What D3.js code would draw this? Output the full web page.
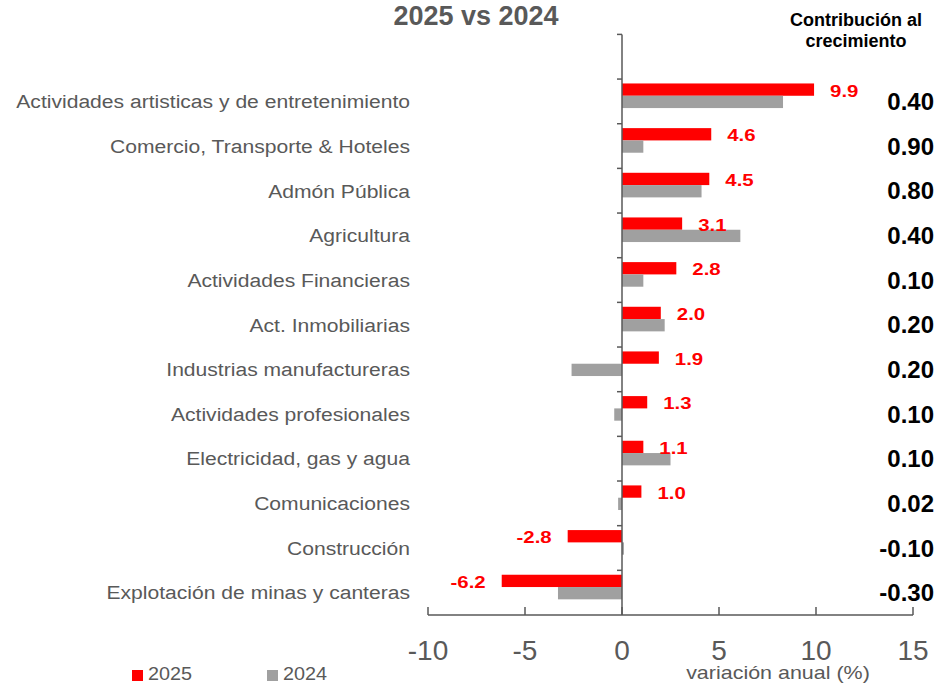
<!DOCTYPE html>
<html>
<head>
<meta charset="utf-8">
<script src="https://cdn.jsdelivr.net/npm/d3@7"></script>
<style>
  body { margin: 0; background: #fff; }
  svg { font-family: "Liberation Sans", Arial, sans-serif; }
</style>
</head>
<body>
<div id="chart"></div>
<script>
const categories = [
    "Actividades artisticas y de entretenimiento",
    "Comercio, Transporte & Hoteles",
    "Admón Pública",
    "Agricultura",
    "Actividades Financieras",
    "Act. Inmobiliarias",
    "Industrias manufactureras",
    "Actividades profesionales",
    "Electricidad, gas y agua",
    "Comunicaciones",
    "Construcción",
    "Explotación de minas y canteras"
];
const values2025 = [9.9, 4.6, 4.5, 3.1, 2.8, 2.0, 1.9, 1.3, 1.1, 1.0, -2.8, -6.2];
const values2024 = [8.3, 1.1, 4.1, 6.1, 1.1, 2.2, -2.6, -0.4, 2.5, -0.2, 0.1, -3.3];
const contribution = ["0.40", "0.90", "0.80", "0.40", "0.10", "0.20", "0.20", "0.10", "0.10", "0.02", "-0.10", "-0.30"];
const xTicks = [-10, -5, 0, 5, 10, 15];
const seriesNames = ["2025", "2024"];

const width = 942, height = 684;
const textGray = "#595959";
const colors = { "2025": "#ff0000", "2024": "#a0a0a0" };

const svg = d3.select("#chart")
    .append("svg")
    .attr("width", width)
    .attr("height", height);

// x scale: -10 .. 15
const x = d3.scaleLinear().domain([-10, 15]).range([428, 913]);

// first band is empty (room under the title)
const y = d3.scaleBand()
    .domain([""].concat(categories))
    .range([34.4, 615])
    .padding(0);

const sub = d3.scaleBand().domain(seriesNames).range([4.4, 29]);

// helper for the slightly stretched text of the original
function stretchedText(g, tx, ty, str, size, sx, anchor) {
    return g.append("text")
        .attr("transform", `translate(${tx},${ty}) scale(${sx},1)`)
        .attr("text-anchor", anchor)
        .style("font-size", size + "px")
        .text(str);
}

// title
svg.append("text")
    .attr("x", 476)
    .attr("y", 25)
    .attr("text-anchor", "middle")
    .style("font-size", "27px")
    .style("font-weight", "bold")
    .style("fill", textGray)
    .text("2025 vs 2024");

// contribution header
const head = svg.append("text")
    .attr("text-anchor", "middle")
    .style("font-size", "18px")
    .style("font-weight", "bold")
    .style("fill", "#000");
head.append("tspan").attr("x", 856).attr("y", 26).text("Contribución al");
head.append("tspan").attr("x", 856).attr("y", 47).text("crecimiento");

const rows = categories.map((c, i) => ({
    name: c, v2025: values2025[i], v2024: values2024[i], contrib: contribution[i]
}));

// bars
const barData = [];
rows.forEach(r => {
    barData.push({ name: r.name, series: "2025", value: r.v2025 });
    barData.push({ name: r.name, series: "2024", value: r.v2024 });
});

svg.selectAll(".bar")
    .data(barData)
    .enter()
    .append("rect")
    .attr("class", "bar")
    .attr("x", d => x(Math.min(0, d.value)))
    .attr("y", d => y(d.name) + sub(d.series))
    .attr("width", d => Math.abs(x(d.value) - x(0)))
    .attr("height", sub.bandwidth())
    .style("fill", d => colors[d.series]);

// axes
const axisG = svg.append("g").style("stroke", textGray).style("stroke-width", 1.5);

axisG.append("line")
    .attr("x1", x(0)).attr("x2", x(0))
    .attr("y1", y.range()[0]).attr("y2", y.range()[1]);

axisG.selectAll(".ytick")
    .data(y.domain())
    .enter()
    .append("line")
    .attr("x1", x(0) - 5).attr("x2", x(0))
    .attr("y1", d => y(d)).attr("y2", d => y(d));

axisG.append("line")
    .attr("x1", x(-10)).attr("x2", x(15))
    .attr("y1", 615).attr("y2", 615);

axisG.selectAll(".xtick")
    .data(xTicks)
    .enter()
    .append("line")
    .attr("x1", d => x(d)).attr("x2", d => x(d))
    .attr("y1", 607).attr("y2", 615);

svg.selectAll(".xlabel")
    .data(xTicks)
    .enter()
    .append("text")
    .attr("x", d => x(d))
    .attr("y", 660)
    .attr("text-anchor", "middle")
    .style("font-size", "28px")
    .style("fill", textGray)
    .text(d => d);

// category labels
const catG = svg.append("g").style("fill", textGray);
rows.forEach(r => {
    stretchedText(catG, 410, y(r.name) + y.bandwidth() / 2 + 6.8, r.name, 19, 1.11, "end");
});

// red value labels
const valG = svg.append("g").style("fill", "#ff0000").style("font-weight", "bold");
rows.forEach(r => {
    const ty = y(r.name) + sub("2025") + sub.bandwidth() / 2 + 7;
    if (r.v2025 >= 0) {
        stretchedText(valG, x(r.v2025) + 16, ty, r.v2025.toFixed(1), 17, 1.2, "start");
    } else {
        stretchedText(valG, x(r.v2025) - 16, ty, r.v2025.toFixed(1), 17, 1.2, "end");
    }
});

// contribution column
svg.selectAll(".contrib")
    .data(rows)
    .enter()
    .append("text")
    .attr("x", 934)
    .attr("y", d => y(d.name) + y.bandwidth() / 2 + 8.6)
    .attr("text-anchor", "end")
    .style("font-size", "24px")
    .style("font-weight", "bold")
    .style("fill", "#000")
    .text(d => d.contrib);

// axis title
const axTitle = svg.append("g").style("fill", textGray);
stretchedText(axTitle, 778, 679, "variación anual (%)", 19, 1.13, "middle");

// legend
const legend = svg.append("g");
const legendX = { "2025": 132, "2024": 267 };
seriesNames.forEach(s => {
    legend.append("rect")
        .attr("x", legendX[s]).attr("y", 670)
        .attr("width", 11).attr("height", 11)
        .style("fill", colors[s]);
    stretchedText(legend, legendX[s] + 16, 680, s, 18, 1.1, "start").style("fill", textGray);
});
</script>
</body>
</html>
